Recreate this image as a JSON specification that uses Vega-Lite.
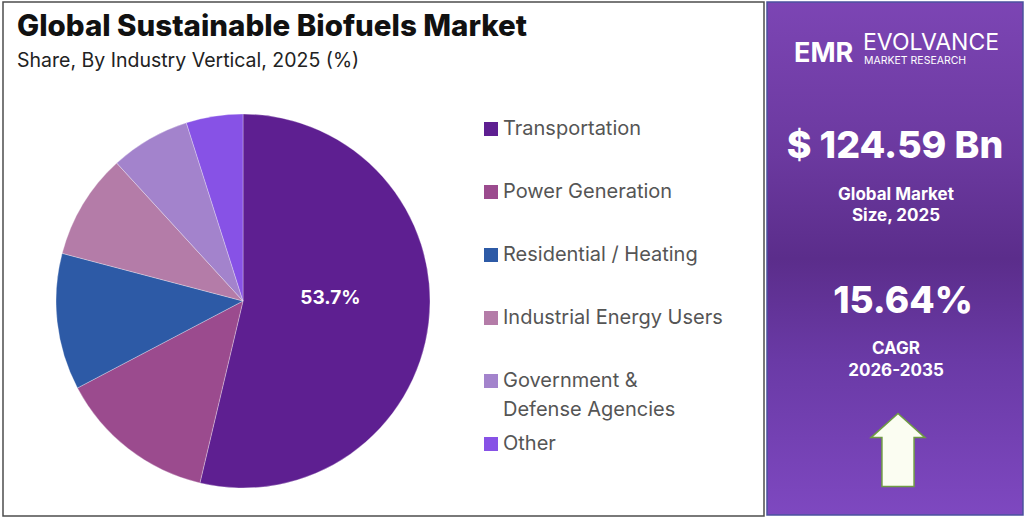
{
  "$schema": "https://vega.github.io/schema/vega-lite/v6.json",
  "background": "#ffffff",
  "padding": {"left": 2, "top": 1, "right": 0, "bottom": 0},
  "spacing": 1,
  "config": {
    "font": "Inter",
    "view": {"stroke": null},
    "style": {"guide-label": {"lineHeight": 29}}
  },
  "datasets": {
    "shares": [
      {"segment": "Transportation", "share": 53.7, "rank": 1},
      {"segment": "Power Generation", "share": 13.6, "rank": 2},
      {"segment": "Residential / Heating", "share": 11.8, "rank": 3},
      {"segment": "Industrial Energy Users", "share": 9.1, "rank": 4},
      {"segment": "Government & Defense Agencies", "share": 6.9, "rank": 5},
      {"segment": "Other", "share": 4.9, "rank": 6}
    ],
    "market": [
      {"market_size_bn": 124.59, "base_year": 2025, "cagr_pct": 15.64, "period": "2026-2035"}
    ]
  },
  "hconcat": [
    {
      "width": 761,
      "height": 514,
      "view": {"stroke": "#4d4d4d", "strokeWidth": 1.5, "fill": "#ffffff"},
      "title": {
        "text": "Global Sustainable Biofuels Market",
        "subtitle": "Share, By Industry Vertical, 2025 (%)",
        "anchor": "start",
        "frame": "group",
        "orient": "top",
        "offset": -69,
        "dx": 14,
        "font": "Inter",
        "fontSize": 29.5,
        "fontWeight": 800,
        "color": "#111111",
        "subtitleFont": "Inter",
        "subtitleFontSize": 19.5,
        "subtitleFontWeight": 400,
        "subtitleColor": "#222222",
        "subtitlePadding": 9
      },
      "data": {"name": "shares"},
      "transform": [
        {"calculate": "format(datum.share, '.1f') + '%'", "as": "share_label"}
      ],
      "encoding": {
        "theta": {"field": "share", "type": "quantitative", "stack": true},
        "order": {"field": "rank", "type": "quantitative"}
      },
      "layer": [
        {
          "mark": {"type": "arc", "x": 240, "y": 299, "outerRadius": 187, "stroke": "#ffffff", "strokeWidth": 0.6, "strokeOpacity": 0.5},
          "encoding": {
            "color": {
              "field": "segment",
              "type": "nominal",
              "scale": {
                "domain": ["Transportation", "Power Generation", "Residential / Heating", "Industrial Energy Users", "Government & Defense Agencies", "Other"],
                "range": ["#5e1f91", "#9b4b8e", "#2d5aa6", "#b47ca8", "#a383cc", "#8752e6"]
              },
              "legend": {
                "orient": "none",
                "direction": "vertical",
                "legendX": 478,
                "legendY": 117,
                "title": null,
                "symbolType": "square",
                "symbolSize": 196,
                "symbolStrokeWidth": 0,
                "labelFont": "Inter",
                "labelFontSize": 20,
                "labelColor": "#555555",
                "labelOffset": 2,
                "labelLimit": 400,
                "rowPadding": 14,
                "gridAlign": "all",
                "labelExpr": "datum.label === 'Government & Defense Agencies' ? ['Government &', 'Defense Agencies'] : datum.label",
                "encode": {"labels": {"update": {"lineHeight": {"value": 29}}}}
              }
            }
          }
        },
        {
          "mark": {"type": "text", "x": 240, "y": 299, "radius": 88, "dy": -13, "fontSize": 19, "fontWeight": 700, "color": "#ffffff"},
          "encoding": {
            "text": {"condition": {"test": "datum.share > 50", "field": "share_label"}, "value": ""}
          }
        }
      ]
    },
    {
      "width": 256,
      "height": 513,
      "view": {
        "stroke": "#4b519e",
        "strokeWidth": 1.5,
        "fill": {
          "gradient": "linear",
          "x1": 0, "y1": 0, "x2": 0, "y2": 1,
          "stops": [
            {"offset": 0, "color": "#7c45b4"},
            {"offset": 0.3, "color": "#6b399f"},
            {"offset": 0.5, "color": "#5b2d8b"},
            {"offset": 0.7, "color": "#6a3aa6"},
            {"offset": 1, "color": "#7e48c0"}
          ]
        }
      },
      "data": {"name": "market"},
      "transform": [
        {"calculate": "'$ ' + format(datum.market_size_bn, '.2f') + ' Bn'", "as": "size_text"},
        {"calculate": "'Global Market\\nSize, ' + datum.base_year", "as": "size_caption"},
        {"calculate": "format(datum.cagr_pct, '.2f') + '%'", "as": "cagr_text"},
        {"calculate": "'CAGR\\n' + datum.period", "as": "cagr_caption"}
      ],
      "layer": [
        {
          "mark": {"type": "text", "text": "EMR", "x": 27, "y": 60, "align": "left", "baseline": "alphabetic", "fontSize": 27, "fontWeight": 700, "color": "#ffffff"},
          "encoding": {}
        },
        {
          "mark": {"type": "text", "text": "EVOLVANCE", "x": 96, "y": 48, "align": "left", "baseline": "alphabetic", "fontSize": 23, "fontWeight": 400, "color": "#ffffff"},
          "encoding": {}
        },
        {
          "mark": {"type": "text", "text": "MARKET RESEARCH", "x": 97, "y": 62, "align": "left", "baseline": "alphabetic", "fontSize": 10.5, "fontWeight": 400, "color": "#ffffff"},
          "encoding": {}
        },
        {
          "mark": {"type": "text", "x": 128, "y": 156, "align": "center", "baseline": "alphabetic", "fontSize": 37.5, "fontWeight": 800, "color": "#ffffff"},
          "encoding": {"text": {"field": "size_text"}}
        },
        {
          "mark": {"type": "text", "x": 129, "y": 198, "align": "center", "baseline": "alphabetic", "fontSize": 17, "fontWeight": 700, "lineBreak": "\n", "lineHeight": 21, "color": "#ffffff"},
          "encoding": {"text": {"field": "size_caption"}}
        },
        {
          "mark": {"type": "text", "x": 136, "y": 311, "align": "center", "baseline": "alphabetic", "fontSize": 37, "fontWeight": 800, "color": "#ffffff"},
          "encoding": {"text": {"field": "cagr_text"}}
        },
        {
          "mark": {"type": "text", "x": 129, "y": 352, "align": "center", "baseline": "alphabetic", "fontSize": 17, "fontWeight": 700, "lineBreak": "\n", "lineHeight": 22, "color": "#ffffff"},
          "encoding": {"text": {"field": "cagr_caption"}}
        },
        {
          "mark": {
            "type": "point",
            "x": 131,
            "y": 448,
            "shape": "M0,-1 L0.74,-0.34 L0.44,-0.34 L0.44,1 L-0.44,1 L-0.44,-0.34 L-0.74,-0.34 Z",
            "size": 5329,
            "filled": true,
            "fill": "#fbfdf2",
            "fillOpacity": 1,
            "stroke": "#6f9a45",
            "strokeWidth": 1.5,
            "opacity": 1
          },
          "encoding": {}
        }
      ]
    }
  ]
}
